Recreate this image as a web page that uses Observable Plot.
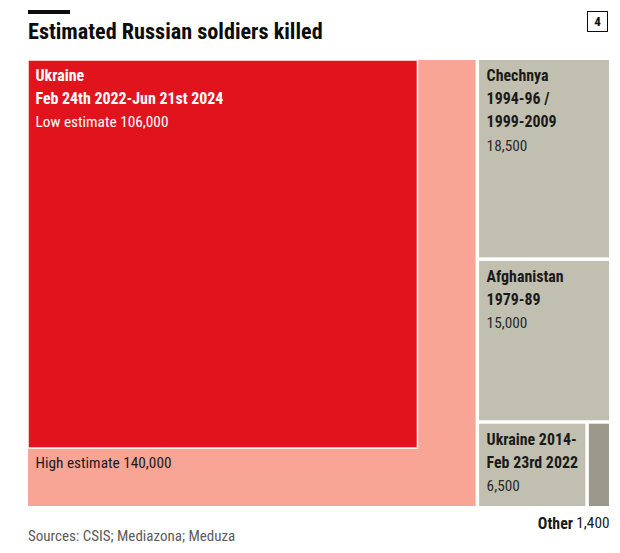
<!DOCTYPE html>
<html>
<head>
<meta charset="utf-8">
<script src="https://cdn.jsdelivr.net/npm/d3@7"></script>
<script src="https://cdn.jsdelivr.net/npm/@observablehq/plot@0.6"></script>
<style>
  html, body { margin: 0; padding: 0; background: #fff; }
  body { width: 620px; height: 553px; position: relative; overflow: hidden;
         font-family: "Roboto Condensed", "Liberation Sans Narrow", "DejaVu Sans Condensed", Roboto, sans-serif; }
  #bar { position: absolute; left: 28px; top: 10px; width: 42px; height: 4px; background: #0c0c0c; }
  #title { position: absolute; left: 28px; top: 20px; font-size: 22.2px; line-height: 22.6px; font-weight: 700; color: #0c0c0c; }
  #num { position: absolute; left: 587px; top: 11px; width: 19px; height: 19px; border: 1px solid #0c0c0c;
         font-size: 13px; font-weight: 700; text-align: center; line-height: 19px; color: #0c0c0c; }
  #chart { position: absolute; left: 0; top: 60px; }
  #source { position: absolute; left: 28px; top: 527px; font-size: 15px; color: #5b5b5b; }
</style>
</head>
<body>
<div id="bar"></div>
<div id="title">Estimated Russian soldiers killed</div>
<div id="num">4</div>
<div id="chart"></div>
<div id="source">Sources: CSIS; Mediazona; Meduza</div>
<script>
// ---- data ----
const conflicts = ["Ukraine", "Chechnya", "Afghanistan", "Ukraine 2014", "Other"];
const deaths = [140000, 18500, 15000, 6500, 1400];          // Ukraine = high estimate
const ukraineLowEstimate = 106000;
const nameLines = [
  [],
  ["Chechnya", "1994-96 /", "1999-2009"],
  ["Afghanistan", "1979-89"],
  ["Ukraine 2014-", "Feb 23rd 2022"],
  []
];
const ukraineLines = ["Ukraine", "Feb 24th 2022-Jun 21st 2024"];
const fills = ["#f8a596", "#c1bfb0", "#c1bfb0", "#c1bfb0", "#9a998a"];
const lowFill = "#e1141e";

// ---- layout ----
const W = 581, H = 446;
const fmt = d3.format(",");
const root = d3.hierarchy({children: conflicts.map((name, i) => ({name, value: deaths[i], i}))})
  .sum(d => d.value || 0)
  .sort((a, b) => b.value - a.value);
d3.treemap().tile(d3.treemapSquarify.ratio(1)).size([W, H]).paddingInner(3.5).round(false)(root);
const cells = root.leaves().map(n => ({...n.data, x0: n.x0, x1: n.x1, y0: n.y0, y1: n.y1}));
const uk = cells.find(d => d.name === "Ukraine");
const s = Math.sqrt(ukraineLowEstimate / uk.value);
const low = [{x0: uk.x0, y0: uk.y0, x1: uk.x0 + (uk.x1 - uk.x0) * s, y1: uk.y0 + (uk.y1 - uk.y0) * s}];
const other = cells.filter(d => d.name === "Other");

// label lines
const LH = 23.3;
const lines = [];
for (const c of cells) {
  const nl = nameLines[c.i];
  if (!nl.length) continue;
  nl.forEach((t, j) => lines.push({x: c.x0, y: c.y0, j, t, bold: true, color: "#1a1a1a"}));
  lines.push({x: c.x0, y: c.y0, j: nl.length, t: fmt(c.value), bold: false, color: "#2a2a2a"});
}
ukraineLines.forEach((t, j) => lines.push({x: low[0].x0, y: low[0].y0, j, t, bold: true, color: "#fff"}));
lines.push({x: low[0].x0, y: low[0].y0, j: ukraineLines.length, t: "Low estimate " + fmt(ukraineLowEstimate), bold: false, color: "#fff"});
const high = [{x: uk.x0, y: low[0].y1, t: "High estimate " + fmt(uk.value)}];

const textMarks = [];
for (let j = 0; j < 4; j++) {
  for (const bold of [true, false]) {
    const sub = lines.filter(d => d.j === j && d.bold === bold);
    if (!sub.length) continue;
    textMarks.push(Plot.text(sub, {
      x: "x", y: "y", text: "t", fill: "color",
      textAnchor: "start", lineAnchor: "top",
      dx: 7, dy: (bold ? 9 : 9.3) + j * LH, fontSize: bold ? 15.9 : 15.3, fontWeight: bold ? 700 : 400
    }));
  }
}

const chart = Plot.plot({
  width: 620,
  height: 472,
  marginTop: 0, marginBottom: 26, marginLeft: 28, marginRight: 11,
  style: {fontFamily: '"Roboto Condensed", "Liberation Sans Narrow", "DejaVu Sans Condensed", Roboto, sans-serif', background: "transparent"},
  x: {domain: [0, W], axis: null},
  y: {domain: [0, H], reverse: true, axis: null},
  marks: [
    Plot.rect(cells, {x1: "x0", x2: "x1", y1: "y0", y2: "y1", fill: d => fills[d.i]}),
    Plot.rect(low, {x1: "x0", x2: "x1", y1: "y0", y2: "y1", fill: lowFill, stroke: "#fff", strokeWidth: 1.5}),
    ...textMarks,
    Plot.text(high, {x: "x", y: "y", text: "t", textAnchor: "start", lineAnchor: "top", dx: 7, dy: 8.5, fontSize: 15.3, fill: "#1a1a1a"}),
    Plot.text(other, {x: "x1", y: "y1", text: d => fmt(d.value), textAnchor: "end", dy: 17, fontSize: 15.3, fill: "#1a1a1a"}),
    Plot.text(other, {x: "x1", y: "y1", text: d => d.name, textAnchor: "end", dx: -36.5, dy: 17, fontSize: 15.9, fontWeight: 700, fill: "#1a1a1a"})
  ]
});
document.getElementById("chart").appendChild(chart);
</script>
</body>
</html>
